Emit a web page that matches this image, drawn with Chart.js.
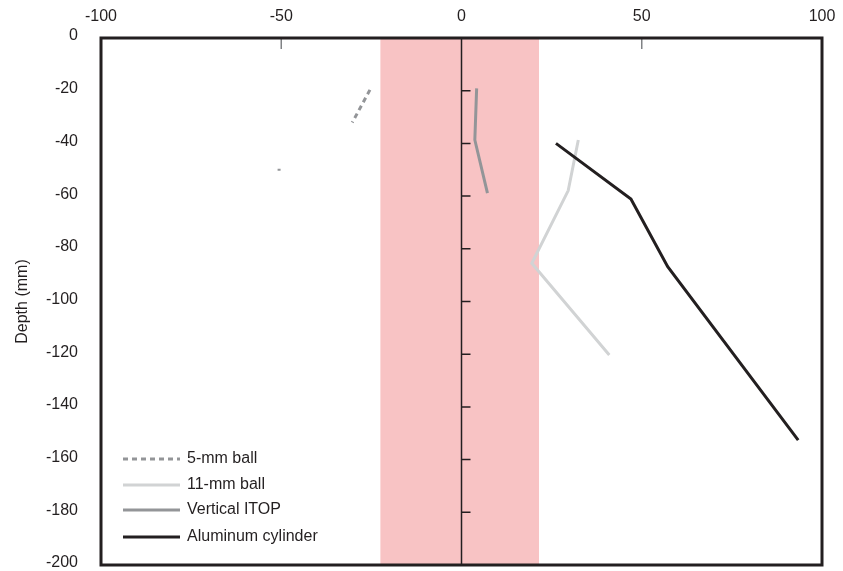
<!DOCTYPE html>
<html>
<head>
<meta charset="utf-8">
<script src="https://cdn.jsdelivr.net/npm/chart.js@4"></script>
<style>
  html, body { margin: 0; padding: 0; background: #fff; }
  #wrap { width: 843px; height: 571px; }
</style>
</head>
<body>
<div id="wrap"><canvas id="chart" width="843" height="571"></canvas></div>
<script>
// series (x = lateral offset, y = depth in mm)
const fiveMmX = [-25.4, -30.3, null, -50.6, -50.6];
const fiveMmY = [-19.7, -32.1, null, -49.6, -50.4];
const elevenMmX = [32.4, 29.6, 19.5, 41.0];
const elevenMmY = [-38.7, -57.9, -85.5, -120.3];
const itopX = [4.2, 3.7, 7.2];
const itopY = [-19.1, -38.7, -58.9];
const aluX = [26.2, 47.0, 57.2, 93.4];
const aluY = [-40.0, -61.1, -86.8, -152.6];

const seriesNames = ['5-mm ball', '11-mm ball', 'Vertical ITOP', 'Aluminum cylinder'];
const xTicks = [-100, -50, 0, 50, 100];
const yTicks = [0, -20, -40, -60, -80, -100, -120, -140, -160, -180, -200];
const bandRange = [-22.5, 21.5];

const INK = '#231f20';
const FONT = "'Liberation Sans', Arial, sans-serif";

function pts(xs, ys) {
  return xs.map((x, i) => (x === null ? { x: null, y: null } : { x, y: ys[i] }));
}

// pink band, centre axis, frame and legend
const decor = {
  id: 'decor',
  beforeDatasetsDraw(chart) {
    const { ctx, chartArea: a, scales: { x, y } } = chart;
    ctx.save();
    ctx.fillStyle = '#f8c3c4';
    const b0 = x.getPixelForValue(bandRange[0]);
    const b1 = x.getPixelForValue(bandRange[1]);
    ctx.fillRect(b0, a.top, b1 - b0, a.bottom - a.top);

    // vertical axis through zero with ticks pointing right
    const x0 = x.getPixelForValue(0);
    ctx.strokeStyle = INK;
    ctx.lineWidth = 1.5;
    ctx.beginPath();
    ctx.moveTo(x0, a.top);
    ctx.lineTo(x0, a.bottom);
    yTicks.forEach(v => {
      if (v === 0 || v === -200) return;
      const py = y.getPixelForValue(v);
      ctx.moveTo(x0, py);
      ctx.lineTo(x0 + 9, py);
    });
    ctx.stroke();

    // little grey ticks under the top edge
    ctx.strokeStyle = '#808285';
    ctx.beginPath();
    [-50, 50].forEach(v => {
      const px = x.getPixelForValue(v);
      ctx.moveTo(px, a.top);
      ctx.lineTo(px, a.top + 11);
    });
    ctx.stroke();
    ctx.restore();
  },
  afterDraw(chart) {
    const { ctx, chartArea: a } = chart;
    ctx.save();
    ctx.strokeStyle = INK;
    ctx.lineWidth = 3;
    ctx.strokeRect(a.left, a.top, a.right - a.left, a.bottom - a.top);

    // legend, lower left inside the frame
    ctx.font = '16px ' + FONT;
    ctx.textBaseline = 'middle';
    ctx.fillStyle = INK;
    const rows = [459, 485, 510, 537];
    chart.data.datasets.slice().sort((p, q) => p.legendIndex - q.legendIndex).forEach((ds, i) => {
      const yy = rows[i];
      ctx.strokeStyle = ds.borderColor;
      ctx.lineWidth = ds.borderWidth;
      ctx.setLineDash(ds.borderDash || []);
      ctx.beginPath();
      ctx.moveTo(123, yy);
      ctx.lineTo(180, yy);
      ctx.stroke();
      ctx.setLineDash([]);
      ctx.fillText(ds.label, 187, yy);
    });
    ctx.restore();
  }
};

const datasets = [
  {
    label: seriesNames[3], legendIndex: 3, order: 0,
    data: pts(aluX, aluY), borderColor: INK, borderWidth: 3
  },
  {
    label: seriesNames[2], legendIndex: 2, order: 1,
    data: pts(itopX, itopY), borderColor: '#939598', borderWidth: 3
  },
  {
    label: seriesNames[1], legendIndex: 1, order: 2,
    data: pts(elevenMmX, elevenMmY), borderColor: '#d1d3d4', borderWidth: 3
  },
  {
    label: seriesNames[0], legendIndex: 0, order: 3,
    data: pts(fiveMmX, fiveMmY), borderColor: '#939598', borderWidth: 3, borderDash: [5, 4]
  }
].map(ds => Object.assign({
  showLine: true,
  spanGaps: false,
  pointRadius: 0,
  pointHoverRadius: 0,
  fill: false,
  tension: 0
}, ds));

new Chart(document.getElementById('chart').getContext('2d'), {
  type: 'scatter',
  data: { datasets },
  options: {
    responsive: false,
    animation: false,
    layout: { padding: { left: 0, top: 0, right: 21, bottom: 6 } },
    plugins: {
      legend: { display: false },
      tooltip: { enabled: false }
    },
    scales: {
      x: {
        type: 'linear',
        position: 'top',
        min: -100,
        max: 100,
        afterBuildTicks(scale) { scale.ticks = xTicks.map(v => ({ value: v })); },
        afterFit(scale) {
          scale.height = 38;
          // end labels may hang past the frame, like the original
          scale.paddingLeft = 0;
          scale.paddingRight = 0;
        },
        grid: { display: false, drawTicks: false },
        border: { display: false },
        ticks: {
          padding: 12,
          color: INK,
          font: { family: FONT, size: 16 },
          maxRotation: 0
        }
      },
      y: {
        type: 'linear',
        position: 'left',
        min: -200,
        max: 0,
        afterBuildTicks(scale) { scale.ticks = yTicks.map(v => ({ value: v })); },
        afterFit(scale) {
          scale.width = 101;
          scale.paddingTop = 0;
          scale.paddingBottom = 0;
        },
        grid: { display: false, drawTicks: false },
        border: { display: false },
        ticks: {
          padding: 23,
          labelOffset: -2,
          color: INK,
          autoSkip: false,
          font: { family: FONT, size: 16 }
        },
        title: {
          display: true,
          text: 'Depth (mm)',
          color: INK,
          padding: { top: 13, bottom: 0 },
          font: { family: FONT, size: 16 }
        }
      }
    }
  },
  plugins: [decor]
});
</script>
</body>
</html>
